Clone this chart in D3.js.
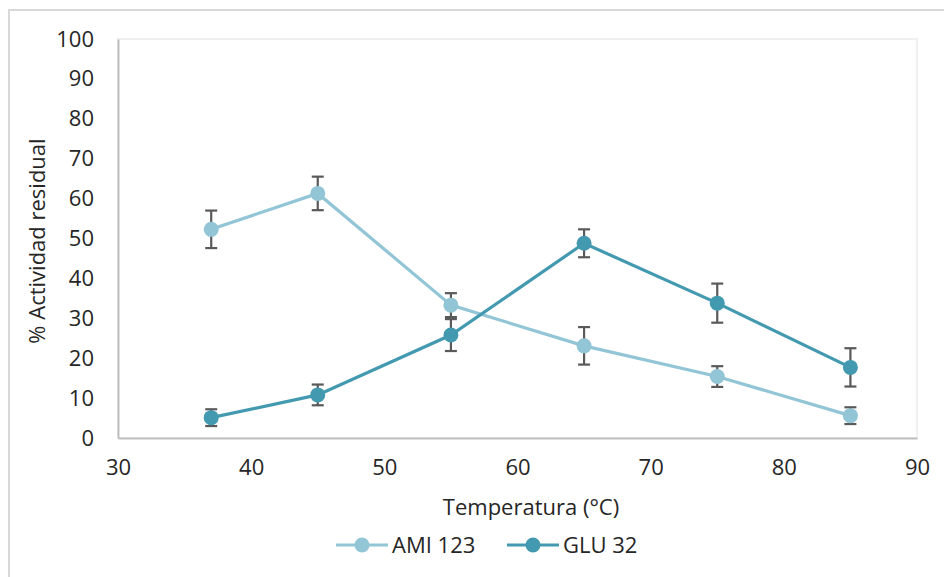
<!DOCTYPE html>
<html>
<head>
<meta charset="utf-8">
<script src="https://cdn.jsdelivr.net/npm/d3@7"></script>
<style>
  body { margin: 0; background: #fff; }
  svg { display: block; font-family: "Open Sans", "Liberation Sans", sans-serif; }
</style>
</head>
<body>
<svg id="chart" width="944" height="577"></svg>
<script>
// data
const temps = [37, 45, 55, 65, 75, 85];
const amiValues = [52.3, 61.3, 33.3, 23.1, 15.4, 5.6];
const amiErrors = [4.7, 4.2, 3.0, 4.7, 2.6, 2.1];
const gluValues = [5.1, 10.8, 25.8, 48.8, 33.8, 17.7];
const gluErrors = [2.1, 2.6, 4.0, 3.5, 4.9, 4.8];
const xTicks = [30, 40, 50, 60, 70, 80, 90];
const yTicks = [0, 10, 20, 30, 40, 50, 60, 70, 80, 90, 100];

const series = [
  { name: 'AMI 123', values: amiValues, errors: amiErrors, color: '#92c5d6' },
  { name: 'GLU 32', values: gluValues, errors: gluErrors, color: '#4299b0' }
];

const fontSize = 22;
const textColor = '#262626';

// margin conventions
const plot = { left: 118, right: 917, top: 39, bottom: 438 };
const x = d3.scaleLinear().domain([30, 90]).range([plot.left, plot.right]);
const y = d3.scaleLinear().domain([0, 100]).range([plot.bottom, plot.top]);

const svg = d3.select('#chart');

// outer chart frame
svg.append('rect')
  .attr('x', 9).attr('y', 10)
  .attr('width', 960).attr('height', 600)
  .attr('fill', 'none')
  .attr('stroke', '#d9d9d9')
  .attr('stroke-width', 2);

// plot area border
svg.append('rect')
  .attr('x', plot.left).attr('y', plot.top)
  .attr('width', plot.right - plot.left).attr('height', plot.bottom - plot.top)
  .attr('fill', 'none')
  .attr('stroke', '#f0f0f0')
  .attr('stroke-width', 2);

// y axis
const yAxis = svg.append('g')
  .attr('transform', 'translate(' + plot.left + ',0)')
  .call(d3.axisLeft(y).tickValues(yTicks).tickSize(0).tickPadding(24));
yAxis.select('.domain').attr('stroke', '#bfbfbf').attr('stroke-width', 2);
yAxis.selectAll('text').attr('font-size', fontSize).attr('fill', textColor)
  .attr('font-family', '"Open Sans", sans-serif');

// x axis
const xAxis = svg.append('g')
  .attr('transform', 'translate(0,' + plot.bottom + ')')
  .call(d3.axisBottom(x).tickValues(xTicks).tickSize(0).tickPadding(21));
xAxis.select('.domain').attr('stroke', '#bfbfbf').attr('stroke-width', 2);
xAxis.selectAll('text').attr('font-size', fontSize).attr('fill', textColor)
  .attr('font-family', '"Open Sans", sans-serif');

// axis titles
svg.append('text')
  .attr('x', 531).attr('y', 515)
  .attr('text-anchor', 'middle')
  .attr('font-size', fontSize)
  .attr('fill', textColor)
  .text('Temperatura (°C)');

svg.append('text')
  .attr('transform', 'translate(45,241) rotate(-90)')
  .attr('text-anchor', 'middle')
  .attr('font-size', fontSize)
  .attr('fill', textColor)
  .text('% Actividad residual');

const line = d3.line()
  .x((d, i) => x(temps[i]))
  .y(d => y(d));

series.forEach(function(s) {
  const g = svg.append('g').attr('class', 'series');

  g.append('path')
    .datum(s.values)
    .attr('d', line)
    .attr('fill', 'none')
    .attr('stroke', s.color)
    .attr('stroke-width', 3.2);

  // error bars
  const err = g.append('g')
    .selectAll('g')
    .data(s.values)
    .enter()
    .append('g')
    .attr('stroke', '#595959')
    .attr('stroke-width', 2.2);
  err.append('line')
    .attr('x1', (d, i) => x(temps[i])).attr('x2', (d, i) => x(temps[i]))
    .attr('y1', (d, i) => y(d + s.errors[i])).attr('y2', (d, i) => y(d - s.errors[i]));
  err.append('line')
    .attr('x1', (d, i) => x(temps[i]) - 6).attr('x2', (d, i) => x(temps[i]) + 6)
    .attr('y1', (d, i) => y(d + s.errors[i])).attr('y2', (d, i) => y(d + s.errors[i]));
  err.append('line')
    .attr('x1', (d, i) => x(temps[i]) - 6).attr('x2', (d, i) => x(temps[i]) + 6)
    .attr('y1', (d, i) => y(d - s.errors[i])).attr('y2', (d, i) => y(d - s.errors[i]));

  g.selectAll('circle')
    .data(s.values)
    .enter()
    .append('circle')
    .attr('cx', (d, i) => x(temps[i]))
    .attr('cy', d => y(d))
    .attr('r', 7.5)
    .attr('fill', s.color);
});

// legend
const legendPos = [336, 507];
series.forEach(function(s, i) {
  const lg = svg.append('g').attr('transform', 'translate(' + legendPos[i] + ',545)');
  lg.append('line')
    .attr('x1', 0).attr('x2', 52)
    .attr('y1', 0).attr('y2', 0)
    .attr('stroke', s.color)
    .attr('stroke-width', 3.2);
  lg.append('circle')
    .attr('cx', 26).attr('cy', 0).attr('r', 7.5)
    .attr('fill', s.color);
  lg.append('text')
    .attr('x', 56).attr('y', 8)
    .attr('font-size', fontSize)
    .attr('fill', textColor)
    .text(s.name);
});
</script>
</body>
</html>
